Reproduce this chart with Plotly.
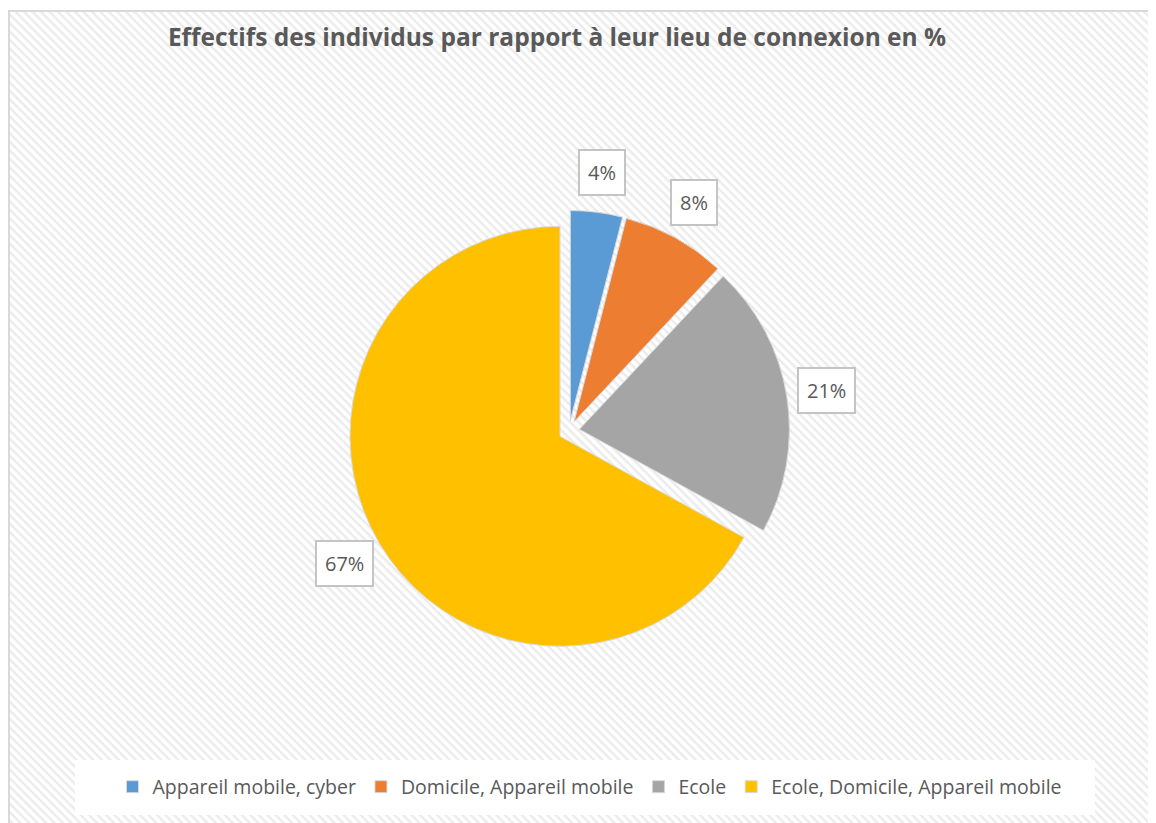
import math
import base64
import plotly.graph_objects as go

# ---- data ----
categories = ["Appareil mobile, cyber", "Domicile, Appareil mobile", "Ecole",
              "Ecole, Domicile, Appareil mobile"]
values = [4, 8, 21, 67]
colors = ["#5B9BD5", "#ED7D31", "#A5A5A5", "#FFC000"]
title_text = "Effectifs des individus par rapport à leur lieu de connexion en %"

# ---- layout constants (figure pixels; page adds an 8px body margin) ----
W, H = 1148, 815
pull = 0.05
dom_x = [0.19, 0.7874]
dom_y = [0.2105, 0.7516]
TXT = "#595959"
FONT = "Open Sans"

fig = go.Figure(go.Pie(
    labels=categories, values=values, sort=False, direction="clockwise",
    rotation=0, pull=pull,
    marker=dict(colors=colors, line=dict(color="#d9d9d9", width=1)),
    textinfo="none", hoverinfo="label+percent",
    domain=dict(x=dom_x, y=dom_y),
))

# boxed labels placed along each slice bisector (derived from the values)
cx = W * (dom_x[0] + dom_x[1]) / 2
cy = H * (1 - (dom_y[0] + dom_y[1]) / 2)
r = min(W * (dom_x[1] - dom_x[0]), H * (dom_y[1] - dom_y[0])) / 2 / (1 + pull)
total = sum(values)
cum = 0
annotations = []
for v in values:
    theta = 2 * math.pi * (cum + v / 2) / total
    cum += v
    R = r * 1.24
    px = cx + R * math.sin(theta)
    py = cy - R * math.cos(theta)
    annotations.append(dict(
        x=px / W, y=1 - py / H, xref="paper", yref="paper",
        xanchor="center", yanchor="middle",
        text=f"{round(100 * v / total)}%", showarrow=False,
        font=dict(family=FONT, size=20, color=TXT),
        bgcolor="white", bordercolor="#c4c4c4", borderwidth=2, borderpad=8,
    ))

# diagonal hatch background
FW, FH = 1142, 812
svg = (
    f"<svg xmlns='http://www.w3.org/2000/svg' width='{FW}' height='{FH}'>"
    "<defs><pattern id='p' patternUnits='userSpaceOnUse' width='6' height='6' "
    "patternTransform='rotate(45)'><rect width='6' height='6' fill='#ffffff'/>"
    "<rect width='6' height='2.4' fill='#ebebeb'/></pattern></defs>"
    f"<rect width='{FW}' height='{FH}' fill='url(#p)'/></svg>"
)
src = "data:image/svg+xml;base64," + base64.b64encode(svg.encode()).decode()

fig.update_layout(
    width=W, height=H, margin=dict(l=0, r=0, t=0, b=0),
    paper_bgcolor="white",
    title=dict(text=f"<b>{title_text}</b>", x=549 / W, xanchor="center",
               y=1 - 29 / H, yanchor="middle",
               font=dict(family=FONT, size=24.5, color=TXT)),
    legend=dict(orientation="h", x=582 / W, xanchor="center", y=1 - 779 / H,
                yanchor="middle", bgcolor="rgba(0,0,0,0)",
                font=dict(family=FONT, size=19.5, color=TXT), itemwidth=30),
    annotations=annotations,
    images=[dict(source=src, xref="paper", yref="paper", x=0, y=1 - 3 / H,
                 sizex=FW / W, sizey=FH / H, xanchor="left", yanchor="top",
                 sizing="stretch", layer="below")],
    shapes=[
        dict(type="rect", xref="paper", yref="paper", x0=1 / W, x1=1141 / W,
             y0=-0.01, y1=1 - 3 / H, line=dict(color="#d9d9d9", width=2),
             layer="below"),
        dict(type="rect", xref="paper", yref="paper", x0=67 / W, x1=1087 / W,
             y0=1 - 807 / H, y1=1 - 752 / H, fillcolor="white",
             line=dict(width=0), layer="below"),
    ],
)

fig.write_html("out.html")
